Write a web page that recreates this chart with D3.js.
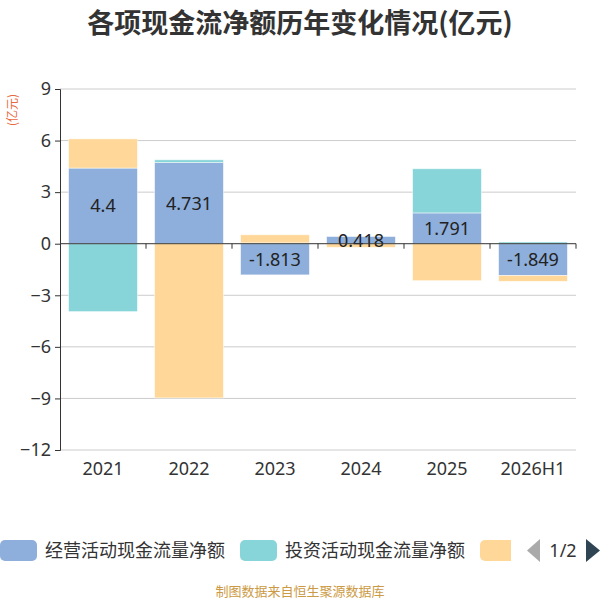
<!DOCTYPE html>
<html>
<head>
<meta charset="utf-8">
<script src="https://cdn.jsdelivr.net/npm/d3@7"></script>
<style>
  body { margin: 0; background: #fff; }
  text { font-family: "Noto Sans CJK SC", "Noto Sans", sans-serif; }
</style>
</head>
<body>
<div id="chart"></div>
<script>
// data
const years = ["2021", "2022", "2023", "2024", "2025", "2026H1"];
const operating = [4.4, 4.731, -1.813, 0.418, 1.791, -1.849];
const investing = [-3.95, 0.15, 0.05, -0.01, 2.57, 0.1];
const financing = [1.7, -8.97, 0.47, -0.2, -2.15, -0.34];
const seriesNames = ["经营活动现金流量净额", "投资活动现金流量净额", "筹资活动现金流量净额"];
const yTicks = [9, 6, 3, 0, -3, -6, -9, -12];

const colors = ["#8eaedb", "#88d5d9", "#ffd899"];
const W = 600, H = 600;
const margin = { top: 89, right: 24, bottom: 150, left: 60 };
const w = W - margin.left - margin.right, h = H - margin.top - margin.bottom;

const svgRoot = d3.select("#chart").append("svg")
    .attr("width", W).attr("height", H);

// title
svgRoot.append("text")
    .attr("x", 300).attr("y", 33)
    .attr("text-anchor", "middle")
    .attr("font-size", "27px").attr("font-weight", "bold")
    .attr("fill", "#333")
    .text("各项现金流净额历年变化情况(亿元)");

// unit label
svgRoot.append("text")
    .attr("transform", "translate(13,110) rotate(-90)")
    .attr("text-anchor", "middle")
    .attr("dy", "0.35em")
    .attr("font-size", "12px").attr("fill", "#e8693f")
    .text("(亿元)");

const svg = svgRoot.append("g")
    .attr("transform", `translate(${margin.left},${margin.top})`);

const x = d3.scaleBand().domain(years).range([0, w]).paddingInner(0.2).paddingOuter(0.1);
const xb = d3.scaleBand().domain(years).range([0, w]);
const y = d3.scaleLinear().domain([-12, 9]).range([h, 0]);

// grid
svg.append("g").selectAll("line")
    .data(yTicks.filter(d => d !== 0))
    .join("line")
    .attr("x1", 0).attr("x2", w)
    .attr("y1", d => y(d)).attr("y2", d => y(d))
    .attr("stroke", "#ccc").attr("stroke-width", 1);

// stack: positives and negatives separately
const all = [operating, investing, financing];
const rects = [];
years.forEach((yr, i) => {
    let pos = 0, neg = 0;
    all.forEach((s, k) => {
        const v = s[i];
        let y0, y1;
        if (v >= 0) { y0 = pos; y1 = pos + v; pos = y1; }
        else { y0 = neg; y1 = neg + v; neg = y1; }
        rects.push({ year: yr, k: k, y0: y0, y1: y1, v: v });
    });
});

svg.append("g").selectAll("rect")
    .data(rects)
    .join("rect")
    .attr("x", d => x(d.year))
    .attr("width", x.bandwidth())
    .attr("y", d => y(Math.max(d.y0, d.y1)))
    .attr("height", d => Math.abs(y(d.y0) - y(d.y1)))
    .attr("fill", d => colors[d.k])
    .attr("stroke", "rgba(255,255,255,0.6)")
    .attr("stroke-width", 0.8);

// labels for operating series
svg.append("g").selectAll("text")
    .data(rects.filter(d => d.k === 0))
    .join("text")
    .attr("x", d => x(d.year) + x.bandwidth() / 2)
    .attr("y", d => (y(d.y0) + y(d.y1)) / 2)
    .attr("dy", "0.36em")
    .attr("text-anchor", "middle")
    .attr("font-size", "18px").attr("fill", "#222")
    .style("font-family", "'Noto Sans', sans-serif")
    .text(d => d.v);

// x axis at zero
const xAxis = svg.append("g").attr("transform", `translate(0,${y(0)})`);
xAxis.append("line").attr("x1", 0).attr("x2", w).attr("stroke", "#333");
xAxis.selectAll(".tk")
    .data(years)
    .join("line")
    .attr("x1", (d, i) => xb.step() * (i + 1)).attr("x2", (d, i) => xb.step() * (i + 1))
    .attr("y1", 0).attr("y2", 5)
    .attr("stroke", "#333");

svg.append("g").selectAll("text")
    .data(years)
    .join("text")
    .attr("x", d => xb(d) + xb.bandwidth() / 2)
    .attr("y", h + 25)
    .attr("text-anchor", "middle")
    .attr("font-size", "18px").attr("fill", "#333")
    .style("font-family", "'Noto Sans', sans-serif")
    .text(d => d);

// y axis
const yAxis = svg.append("g")
    .call(d3.axisLeft(y).tickValues(yTicks).tickSize(5).tickPadding(4));
yAxis.select(".domain").attr("stroke", "#333");
yAxis.selectAll(".tick line").attr("stroke", "#333");
yAxis.selectAll(".tick text")
    .attr("font-size", "18px").attr("fill", "#333")
    .style("font-family", "'Noto Sans', sans-serif");

// legend
const legend = svgRoot.append("g").attr("transform", "translate(0,540)");
const legendX = [0, 240, 480];
seriesNames.forEach((name, k) => {
    const g = legend.append("g").attr("transform", `translate(${legendX[k]},0)`);
    g.append("rect").attr("width", 37).attr("height", 21).attr("rx", 5)
        .attr("fill", colors[k]);
    if (k < 2) {
        g.append("text").attr("x", 45).attr("y", 10.5).attr("dy", "0.36em")
            .attr("font-size", "18px").attr("fill", "#333").text(name);
    }
});
// clip the third legend item
svgRoot.append("rect").attr("x", 511).attr("y", 530).attr("width", 89).attr("height", 40).attr("fill", "#fff");
// page arrows
svgRoot.append("path").attr("d", "M540,539 L527,550.5 L540,562 Z").attr("fill", "#aaa");
svgRoot.append("text").attr("x", 563).attr("y", 550.5).attr("dy", "0.36em")
    .attr("text-anchor", "middle").attr("font-size", "18px").attr("fill", "#333")
    .style("font-family", "'Noto Sans', sans-serif").text("1/2");
svgRoot.append("path").attr("d", "M586,539 L600,550.5 L586,562 Z").attr("fill", "#2f4554");

// footer
svgRoot.append("text")
    .attr("x", 300).attr("y", 596)
    .attr("text-anchor", "middle")
    .attr("font-size", "13px").attr("fill", "#cc9a45")
    .text("制图数据来自恒生聚源数据库");
</script>
</body>
</html>
